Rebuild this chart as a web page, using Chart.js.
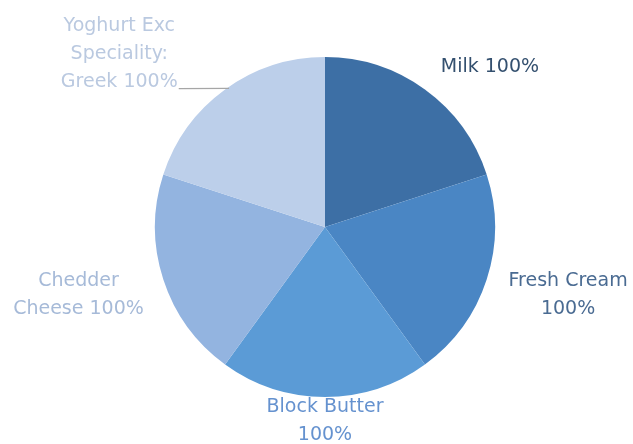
<!DOCTYPE html>
<html>
<head>
<meta charset="utf-8">
<script src="https://cdn.jsdelivr.net/npm/chart.js@4/dist/chart.umd.min.js"></script>
<style>
  html, body { margin: 0; padding: 0; background: #ffffff; }
  #wrap { width: 633px; height: 444px; }
</style>
</head>
<body>
<div id="wrap"><canvas id="pieChart" width="633" height="444"></canvas></div>
<script>
const categories = ['Milk', 'Fresh Cream', 'Block Butter', 'Chedder Cheese', 'Yoghurt Exc Speciality: Greek'];
const values = [100, 100, 100, 100, 100];
const percentLabels = ['100%', '100%', '100%', '100%', '100%'];

const sliceColors = ['#3d6fa5', '#4a86c4', '#5b9bd6', '#93b4e0', '#bccfea'];
const textColors = ['#34506f', '#4a6b92', '#6592cf', '#a6bad8', '#bac9e0'];
// label text split into lines, and where each label sits (in radius units from centre)
const labelLines = [
    ['Milk 100%'],
    ['Fresh Cream', '100%'],
    ['Block Butter', '100%'],
    ['Chedder', 'Cheese 100%'],
    ['Yoghurt Exc', 'Speciality:', 'Greek 100%']
];
const labelOffsets = [[0.97, -0.94], [1.43, 0.40], [0, 1.14], [-1.45, 0.40], [-1.21, -1.02]];

const outsideLabels = {
    id: 'outsideLabels',
    afterDatasetsDraw(chart) {
        const c = chart.ctx;
        const meta = chart.getDatasetMeta(0);
        c.save();
        c.font = '19px "DejaVu Sans"';
        c.textAlign = 'center';
        c.textBaseline = 'middle';
        const lh = 28;
        meta.data.forEach((arc, i) => {
            const r = arc.outerRadius;
            const cx = arc.x + labelOffsets[i][0] * r;
            const cy = arc.y + labelOffsets[i][1] * r;
            const lines = labelLines[i];
            c.fillStyle = textColors[i];
            lines.forEach((t, j) => {
                c.fillText(t, cx, cy + (j - (lines.length - 1) / 2) * lh);
            });
            if (i === 4) {
                // leader line to the slice edge
                const mid = (arc.startAngle + arc.endAngle) / 2;
                const ex = arc.x + Math.cos(mid) * r;
                const ey = arc.y + Math.sin(mid) * r;
                const w = c.measureText(lines[2]).width;
                const ly = cy + lh + 7;
                c.strokeStyle = '#a6a6a6';
                c.lineWidth = 1.2;
                c.beginPath();
                c.moveTo(cx + w / 2 + 1, ly);
                c.lineTo(ex + 4, ey - 1);
                c.stroke();
            }
        });
        c.restore();
    }
};

new Chart(document.getElementById('pieChart').getContext('2d'), {
    type: 'pie',
    data: {
        labels: categories,
        datasets: [{
            data: values,
            backgroundColor: sliceColors,
            borderWidth: 0
        }]
    },
    options: {
        responsive: false,
        animation: false,
        layout: { padding: { left: 60, right: 43, top: 57, bottom: 47 } },
        plugins: {
            legend: { display: false },
            tooltip: { enabled: false }
        }
    },
    plugins: [outsideLabels]
});
</script>
</body>
</html>
